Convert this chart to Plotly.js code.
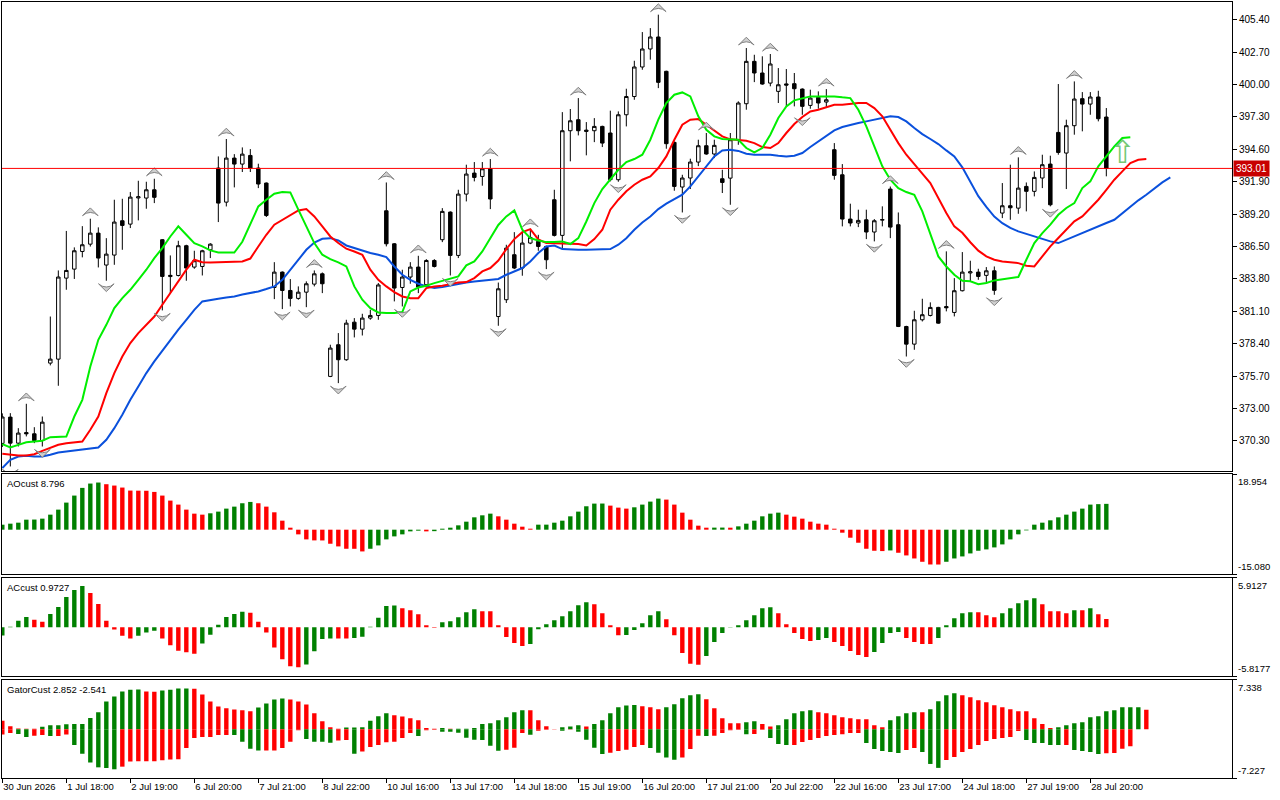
<!DOCTYPE html>
<html><head><meta charset="utf-8">
<script src="https://cdn.plot.ly/plotly-3.0.1.min.js"></script>
<style>html,body{margin:0;padding:0;background:#fff}#chart{width:1280px;height:800px}</style>
</head><body><div id="chart"></div>
<script>
// ---------- DATA ----------
const openP = [370.1,372.29,370.12,371.0,370.9,370.34,376.79,377.12,383.87,384.62,
386.09,386.7,387.62,384.96,385.79,388.65,388.37,390.55,390.54,391.23,
387.07,384.0,384.09,386.57,384.79,384.84,386.23,393.04,390.2,393.87,
393.37,394.09,393.04,391.79,383.09,384.37,382.84,382.18,382.7,383.37,
384.23,375.68,378.32,377.07,380.2,379.62,380.54,380.76,389.48,386.73,
383.09,383.96,384.79,383.32,385.34,387.07,389.37,385.76,390.87,392.62,
392.34,392.98,380.67,382.07,385.82,384.71,386.79,386.93,386.51,390.4,
387.43,396.15,397.07,396.2,396.15,396.51,395.96,392.07,397.48,399.0,
401.46,402.96,403.96,401.1,395.18,391.46,392.21,393.54,394.9,394.21,
392.15,392.2,395.4,398.4,401.93,400.96,400.12,399.43,400.05,400.07,
399.62,398.26,398.93,398.54,394.57,392.48,388.79,388.46,388.73,387.71,
388.7,391.29,388.32,379.84,378.37,380.4,380.76,381.43,381.5,381.01,
382.82,384.3,384.37,384.1,384.48,389.29,389.9,389.7,391.51,391.1,
392.21,393.37,396.01,394.29,396.57,398.82,398.37,398.96,397.29];
const highP = [372.6,372.62,371.37,373.4,371.45,372.34,380.67,384.51,387.8,386.43,
388.2,388.82,388.1,387.2,390.4,390.48,391.04,391.98,391.9,392.15,
387.12,385.76,386.98,386.65,386.15,386.23,386.78,394.01,395.46,394.2,
394.76,394.62,393.4,391.84,385.2,384.43,383.79,383.18,383.6,384.51,
384.34,378.32,379.29,380.4,380.54,380.9,381.23,383.46,391.84,386.79,
384.57,385.2,385.73,385.45,385.45,389.7,389.43,391.23,393.32,393.54,
393.54,393.79,383.5,386.65,387.7,387.7,387.9,387.48,386.57,391.23,
397.7,397.96,398.87,396.87,397.2,396.57,397.82,397.76,399.65,401.98,
404.37,404.7,405.82,401.15,395.26,392.48,393.82,395.4,395.96,395.4,
392.9,395.96,398.6,403.04,402.48,402.35,402.54,401.37,401.29,400.96,
399.68,399.57,399.43,399.62,395.12,393.37,390.07,389.57,389.57,388.79,
389.85,391.5,389.34,379.9,381.15,382.15,381.85,381.48,386.1,383.87,
386.04,385.32,384.65,384.79,384.84,391.79,393.32,393.93,391.84,392.76,
394.15,394.07,400.04,397.07,400.26,399.37,399.37,399.48,398.04];
const lowP = [369.8,368.18,369.84,370.68,370.12,369.84,376.6,374.9,382.9,383.8,
385.6,386.5,384.76,383.65,384.98,386.23,388.04,388.68,389.65,390.12,
381.18,382.57,384.01,383.65,384.65,384.09,385.54,388.54,389.84,391.43,
392.71,392.71,391.37,388.96,382.12,381.29,381.51,382.07,381.45,383.18,
382.62,375.62,375.12,376.98,378.93,379.09,380.4,380.4,386.51,381.93,
381.51,383.4,382.62,383.12,384.76,386.87,384.09,385.54,390.26,391.93,
391.57,389.62,379.9,381.8,384.62,384.07,386.7,386.15,384.62,387.34,
386.37,393.6,395.76,394.1,395.2,394.79,391.93,391.9,396.51,398.73,
401.23,402.07,399.7,394.65,391.15,389.34,391.29,393.2,394.15,393.87,
390.96,389.98,394.98,397.9,400.2,399.98,399.85,398.46,398.18,398.18,
397.48,397.98,397.98,398.04,392.07,388.18,388.18,388.12,387.12,386.93,
388.18,387.2,379.79,377.34,377.9,380.26,380.68,380.07,381.1,380.68,
382.76,383.6,383.73,383.46,382.48,388.87,388.73,389.23,389.43,390.68,
391.37,389.85,394.15,391.29,395.82,396.1,397.48,396.93,392.35];
const closeP = [372.3,370.12,370.96,370.9,370.34,371.87,377.12,383.96,384.51,386.15,
386.65,387.62,385.54,385.87,388.54,388.26,390.62,390.65,391.23,390.6,
384.01,384.1,386.57,384.71,385.32,386.15,386.7,390.12,393.87,393.37,
394.2,393.04,391.71,389.09,384.37,382.84,382.18,382.7,383.4,384.23,
383.4,378.04,377.07,380.12,379.62,380.54,380.76,383.3,386.73,383.04,
383.96,384.79,383.12,385.34,384.84,389.43,385.76,390.87,392.54,392.26,
392.98,390.46,382.98,386.37,384.71,386.79,387.26,386.51,385.4,387.43,
396.15,396.98,396.15,396.1,396.51,395.12,392.07,397.48,399.0,401.46,
402.96,403.96,400.18,395.07,391.51,392.21,393.54,394.9,394.21,394.93,
391.84,395.4,398.46,401.93,400.96,400.04,401.71,399.98,399.95,399.65,
398.18,398.87,398.46,398.73,392.43,388.79,388.46,388.68,387.71,388.65,
388.75,388.12,379.84,378.37,380.4,380.82,381.43,380.12,381.4,382.82,
384.37,384.4,384.01,384.48,382.85,389.9,389.73,391.37,391.1,392.26,
393.32,389.98,394.34,396.57,398.79,398.37,398.96,397.15,393.01];

// Alligator lines (already shifted forward as displayed)
const lipsVals = [370.04,369.76,369.98,370.2,370.26,370.32,370.62,370.67,370.67,372.34,
373.73,376.5,378.73,379.98,381.37,382.2,382.9,383.73,384.57,385.54,
386.37,387.34,388.18,387.48,386.79,386.51,386.18,386.01,386.0,386.0,
386.9,388.3,389.84,390.4,390.9,391.04,391.01,389.57,388.18,386.79,
385.82,385.45,385.18,384.84,383.18,382.07,381.37,381.01,380.96,380.96,
381.04,382.76,383.09,383.23,383.45,383.65,383.82,384.01,384.93,385.26,
386.09,387.15,388.3,389.01,389.51,387.9,387.2,387.01,386.87,386.87,
386.93,386.71,387.2,388.59,390.12,391.29,392.07,392.9,393.54,393.79,
394.15,395.4,397.07,398.46,399.15,399.34,399.01,397.35,396.23,395.68,
395.46,395.44,395.4,394.71,394.34,394.71,395.82,397.21,398.18,398.68,
398.87,399.01,399.01,399.01,399.01,398.93,398.87,397.9,396.51,394.84,
393.18,392.07,391.37,391.04,390.82,389.43,387.62,385.68,384.84,384.15,
383.65,383.6,383.36,383.46,383.68,383.79,383.87,383.96,385.4,386.79,
387.62,388.32,389.15,389.71,390.12,391.37,391.93,393.18,394.01,394.84,395.54,395.6];
const teethVals = [369.23,369.15,369.1,369.1,369.2,369.48,369.7,369.98,370.12,370.2,
370.26,371.23,372.34,374.29,375.96,377.34,378.46,379.29,379.98,380.67,
381.65,382.62,383.59,384.57,385.4,385.2,385.18,385.18,385.2,385.23,
385.26,385.5,386.51,387.48,388.32,388.73,389.15,389.51,389.62,389.01,
388.18,387.34,386.79,386.32,386.09,385.82,384.57,383.73,383.18,382.7,
382.34,382.2,382.2,383.04,383.18,383.23,383.37,383.51,383.54,383.87,
384.43,384.71,385.33,386.29,387.12,387.7,387.95,387.1,386.79,386.79,
386.73,386.73,386.71,386.59,387.12,387.9,389.57,390.4,391.1,391.65,
392.07,392.34,393.04,394.01,395.4,396.65,397.07,397.12,396.65,396.18,
395.68,395.43,395.4,395.32,395.12,394.79,394.71,395.12,395.96,396.71,
397.29,397.76,397.9,398.12,398.32,398.32,398.4,398.46,398.46,398.04,
397.35,396.23,395.12,394.15,393.32,392.57,391.79,390.54,389.29,388.18,
387.65,386.86,386.16,385.68,385.4,385.26,385.21,385.12,384.9,384.84,
385.68,386.51,387.21,387.9,388.6,389.01,389.71,390.4,391.23,392.07,392.76,393.46,393.73,393.79];
const jawVals = [368.04,368.73,369.01,369.07,369.01,369.01,369.15,369.34,369.43,369.51,
369.62,369.7,369.76,370.4,371.37,372.48,373.73,374.84,375.96,376.93,
377.84,378.73,379.57,380.4,381.23,381.93,382.07,382.15,382.26,382.34,
382.5,382.62,382.76,382.96,383.18,383.73,384.57,385.4,386.23,386.84,
387.15,387.2,387.01,386.59,386.37,386.18,385.96,385.82,385.62,384.84,
384.15,383.73,383.4,383.18,383.04,383.12,383.26,383.4,383.51,383.59,
383.65,383.73,383.8,384.15,384.43,384.71,385.26,385.96,386.51,386.59,
386.29,386.23,386.23,386.23,386.23,386.26,386.29,386.65,387.2,387.9,
388.51,389.01,389.62,390.07,390.46,390.82,391.51,392.34,393.18,394.01,
394.51,394.57,394.47,394.23,394.15,394.15,394.15,394.07,394.01,394.07,
394.29,394.79,395.26,395.73,396.18,396.46,396.65,396.79,396.93,397.07,
397.26,397.35,397.29,396.93,396.37,395.87,395.46,395.04,394.51,394.01,
393.1,391.9,390.7,389.8,389.0,388.45,388.05,387.76,387.54,387.35,
387.12,386.93,386.79,387.07,387.35,387.68,387.9,388.18,388.46,388.73,389.29,389.85,390.35,390.82,391.37,391.85,392.26];

const upFractalBars = [3,11,19,28,39,48,52,61,66,72,82,88,93,96,103,111,118,127,134];
const downFractalBars = [1,5,13,20,35,38,42,50,56,62,68,77,85,91,100,109,113,124,131];
const signalBar = [140];
const signalPrice = [394.4];
const currentPrice = 393.01;

const aoVals = [1.7,2.05,2.39,3.41,3.45,3.76,5.12,6.83,9.22,11.61,
14.23,15.7,16.05,15.48,15.02,14.34,13.31,13.28,13.25,12.86,
11.61,9.9,8.54,6.83,5.46,5.12,5.58,6.15,7.17,7.85,
9.0,9.45,9.0,7.85,5.92,3.07,0.68,-1.59,-3.3,-3.64,
-3.66,-4.78,-5.69,-6.49,-6.5,-7.4,-6.49,-5.35,-3.3,-2.28,
-1.59,-0.57,-0.34,-0.57,-0.5,0.34,0.68,1.48,2.73,4.21,
4.89,5.46,4.55,3.41,2.05,1.02,0.34,1.71,1.72,2.39,
3.07,4.55,6.15,7.97,8.88,8.9,8.19,7.51,7.17,7.62,
8.54,9.56,10.58,10.24,8.54,5.8,3.41,1.37,0.68,0.7,
0.72,0.68,1.14,2.05,3.07,4.55,5.46,5.8,5.12,4.44,
3.76,2.73,2.05,1.71,0.34,-1.02,-2.73,-4.44,-6.49,-7.17,
-7.28,-7.06,-7.85,-8.76,-9.79,-10.92,-11.84,-11.85,-10.92,-9.79,
-9.1,-8.08,-7.17,-6.71,-6.03,-5.01,-3.3,-1.59,-0.23,1.71,
2.39,3.19,4.21,5.12,6.15,7.17,8.54,8.7,8.796];
const acVals = [-1.0,0.05,0.75,1.22,0.87,0.63,1.58,2.41,3.59,4.42,
4.9,4.07,2.77,0.75,-0.28,-1.03,-1.34,-1.03,-0.63,-0.43,
-1.34,-2.17,-2.8,-3.0,-3.16,-1.94,-0.91,0.28,1.22,1.58,
1.82,1.7,0.63,-0.63,-2.41,-3.83,-4.66,-4.78,-4.46,-2.88,
-1.42,-1.34,-1.35,-1.36,-1.3,-1.15,0.05,1.11,2.53,2.57,
2.25,2.01,1.54,0.24,-0.08,0.59,0.71,1.18,1.77,2.13,
1.89,1.88,0.24,-1.18,-1.89,-2.25,-2.01,-0.24,0.35,0.83,
1.3,1.89,2.6,2.96,2.72,1.65,0.24,-0.95,-0.94,-0.35,
0.47,1.42,1.89,0.95,-0.95,-3.07,-4.37,-4.49,-3.43,-1.77,
-0.71,-0.04,0.24,0.83,1.42,2.25,2.36,1.65,0.35,-0.71,
-1.42,-1.65,-1.54,-1.3,-1.77,-2.25,-2.84,-3.31,-3.55,-2.96,
-1.89,-0.71,-0.59,-1.3,-1.77,-2.01,-2.02,-1.3,0.24,1.06,
1.65,1.77,1.76,1.42,1.18,1.65,2.25,2.84,3.19,3.43,
2.72,1.89,1.88,1.65,2.01,2.0,2.25,1.54,0.9727];
const gatorUp = [1.22,0.44,0.10,0.05,0.04,0.34,0.58,0.59,0.73,0.74,
0.75,1.66,2.48,4.09,4.82,5.55,5.84,5.85,5.55,5.54,
5.70,5.84,5.99,6.0,5.98,5.11,4.09,3.36,3.07,2.92,
2.78,2.63,3.21,3.80,4.38,4.53,4.38,4.09,3.65,2.34,
1.17,0.29,0.05,0.24,0.25,0.29,1.22,1.9,2.34,2.06,
1.86,1.62,1.32,0.15,0.05,0.15,0.05,0.06,0.07,0.15,
0.74,0.88,1.32,1.76,2.5,2.79,2.78,1.32,0.44,0.02,
0.29,0.39,0.59,0.39,0.74,1.32,2.35,3.23,3.50,3.55,
3.38,3.23,2.94,3.23,3.67,4.56,5.0,5.15,4.41,3.09,
1.62,0.88,0.87,1.03,1.18,0.74,0.39,0.59,1.47,2.35,
2.65,2.79,2.5,2.35,2.06,1.76,1.62,1.47,1.46,0.59,
0.29,1.32,1.91,2.35,2.5,2.49,2.94,4.12,5.0,5.29,
5.0,4.7,4.26,3.97,3.53,3.23,2.94,2.65,2.64,1.62,
0.74,0.15,0.29,0.59,0.88,1.03,1.76,1.91,2.65,2.79,3.23,3.24,3.25,2.852];
const gatorDown = [-0.78,-0.58,-0.73,-1.17,-0.97,-0.88,-1.02,-1.01,-0.78,-2.34,
-3.65,-4.92,-5.65,-5.75,-5.94,-5.55,-4.77,-4.76,-4.75,-4.74,
-4.6,-4.48,-4.47,-2.78,-1.31,-1.17,-1.16,-0.88,-0.87,-0.88,
-1.85,-2.92,-3.17,-3.16,-3.15,-2.78,-1.85,-0.15,-1.46,-1.85,
-1.86,-2.0,-1.7,-1.61,-3.65,-3.31,-2.63,-2.34,-1.95,-1.86,
-1.32,-0.59,-1.03,-0.15,-0.1,-0.39,-0.4,-0.54,-1.27,-1.57,
-1.6,-2.45,-3.19,-3.04,-2.74,-0.59,-0.83,-0.25,-0.1,-0.02,
-0.25,-0.05,-0.39,-1.57,-2.74,-3.67,-3.48,-3.23,-3.04,-2.65,
-2.35,-2.79,-3.48,-4.21,-4.51,-4.21,-2.94,-0.98,-1.0,-0.98,
-0.59,-0.15,-0.1,-0.74,-0.73,-0.1,-1.32,-2.2,-2.35,-2.34,
-1.91,-1.62,-1.32,-1.03,-0.88,-0.74,-0.59,-0.58,-2.06,-2.94,
-3.23,-3.38,-3.53,-3.09,-2.79,-3.38,-5.15,-5.73,-4.56,-4.12,
-3.38,-2.94,-2.35,-1.76,-1.47,-1.32,-1.18,-0.29,-1.62,-2.06,
-2.07,-2.35,-2.36,-2.35,-3.09,-3.23,-3.38,-3.67,-3.55,-3.54,-2.9,-2.541];

const aoScale = [-15.080, 18.954];
const acScale = [-5.8177, 5.9127];
const gatorScale = [-7.227, 7.338];
const aoScaleText = ['-15.080', '18.954'];
const acScaleText = ['-5.8177', '5.9127'];
const gatorScaleText = ['-7.227', '7.338'];

const timeTickBars = [0,8,16,24,32,40,48,56,64,72,80,88,96,104,112,120,128,136];
const timeTickLabels = ['30 Jun 2026','1 Jul 18:00','2 Jul 19:00','6 Jul 20:00','7 Jul 21:00',
'8 Jul 22:00','10 Jul 16:00','13 Jul 17:00','14 Jul 18:00','15 Jul 19:00','16 Jul 20:00',
'17 Jul 21:00','20 Jul 22:00','22 Jul 16:00','23 Jul 17:00','24 Jul 18:00','27 Jul 19:00','28 Jul 20:00'];

// ---------- BUILD ----------
const idx = n => Array.from({length: n}, (_, i) => i);
const GREEN = '#008000', RED = '#ff0000';
const FONT = 'Liberation Sans, Arial, sans-serif';
const trendColors = (v, first) => v.map((x, i) => i === 0 ? first : (x > v[i-1] ? GREEN : RED));
const magColors = (v, first) => v.map((x, i) => i === 0 ? first : (Math.abs(x) > Math.abs(v[i-1]) ? GREEN : RED));

const nBars = openP.length;
const xRange = [-0.04, 153.71];

const traces = [
  {type: 'candlestick', x: idx(nBars), open: openP, high: highP, low: lowP, close: closeP,
   xaxis: 'x', yaxis: 'y', whiskerwidth: 0, hoverinfo: 'skip',
   increasing: {line: {color: '#000', width: 1}, fillcolor: '#ffffff'},
   decreasing: {line: {color: '#000', width: 1}, fillcolor: '#000000'}},
  {type: 'scatter', mode: 'lines', x: idx(jawVals.length), y: jawVals, xaxis: 'x', yaxis: 'y',
   line: {color: '#0a50dc', width: 2}, hoverinfo: 'skip'},
  {type: 'scatter', mode: 'lines', x: idx(teethVals.length), y: teethVals, xaxis: 'x', yaxis: 'y',
   line: {color: '#ff0000', width: 2}, hoverinfo: 'skip'},
  {type: 'scatter', mode: 'lines', x: idx(lipsVals.length), y: lipsVals, xaxis: 'x', yaxis: 'y',
   line: {color: '#00ee00', width: 2}, hoverinfo: 'skip'},
  {type: 'scatter', mode: 'markers', x: upFractalBars, y: upFractalBars.map(i => highP[i] + 0.9),
   xaxis: 'x', yaxis: 'y', hoverinfo: 'skip',
   marker: {symbol: 'arrow-wide', size: 11, color: '#cfcfcf', line: {color: '#808080', width: 1}}},
  {type: 'scatter', mode: 'markers', x: downFractalBars, y: downFractalBars.map(i => lowP[i] - 0.9),
   xaxis: 'x', yaxis: 'y', hoverinfo: 'skip',
   marker: {symbol: 'arrow-wide', angle: 180, size: 11, color: '#cfcfcf', line: {color: '#808080', width: 1}}},
  {type: 'bar', x: idx(aoVals.length), y: aoVals, xaxis: 'x2', yaxis: 'y2', width: 0.55,
   marker: {color: trendColors(aoVals, GREEN), line: {width: 0}}, hoverinfo: 'skip'},
  {type: 'bar', x: idx(acVals.length), y: acVals, xaxis: 'x3', yaxis: 'y3', width: 0.55,
   marker: {color: trendColors(acVals, GREEN), line: {width: 0}}, hoverinfo: 'skip'},
  {type: 'bar', x: idx(gatorUp.length), y: gatorUp, xaxis: 'x4', yaxis: 'y4', width: 0.55,
   marker: {color: trendColors(gatorUp, RED), line: {width: 0}}, hoverinfo: 'skip'},
  {type: 'bar', x: idx(gatorDown.length), y: gatorDown, xaxis: 'x4', yaxis: 'y4', width: 0.55,
   marker: {color: magColors(gatorDown, RED), line: {width: 0}}, hoverinfo: 'skip'}
];

const frameX = (anchor, extra) => Object.assign({
  domain: [0, 1], range: xRange, anchor: anchor, showline: true, mirror: true,
  linecolor: '#000', linewidth: 1, showgrid: false, zeroline: false, showticklabels: false,
  ticks: '', fixedrange: true, rangeslider: {visible: false}
}, extra || {});
const frameY = (domain, range, extra) => Object.assign({
  domain: domain, range: range, side: 'right', showline: true, mirror: true,
  linecolor: '#000', linewidth: 1, showgrid: false, zeroline: false, fixedrange: true,
  ticks: 'outside', ticklen: 4, tickcolor: '#000',
  tickfont: {family: FONT, size: 10, color: '#000'}
}, extra || {});

const H = 776;
const dom = (top, bottom) => [(778 - bottom) / H, (778 - top) / H];

const layout = {
  width: 1280, height: 800,
  margin: {l: 2, r: 48, t: 2, b: 22, pad: 0},
  paper_bgcolor: '#ffffff', plot_bgcolor: '#ffffff',
  showlegend: false, hovermode: false, barmode: 'overlay', boxgap: 0.38,
  font: {family: FONT, size: 10, color: '#000'},
  xaxis: frameX('y'),
  xaxis2: frameX('y2', {matches: 'x'}),
  xaxis3: frameX('y3', {matches: 'x'}),
  xaxis4: frameX('y4', {matches: 'x', showticklabels: true, tickmode: 'array',
     tickvals: timeTickBars, ticktext: timeTickLabels, ticks: 'outside', ticklen: 4,
     tickcolor: '#000', ticklabelposition: 'outside right',
     tickfont: {family: FONT, size: 9.5, color: '#000'}}),
  yaxis: frameY(dom(2, 471), [367.8, 406.875], {tick0: 370.3, dtick: 2.7, tickformat: '.2f'}),
  yaxis2: frameY(dom(474, 574), aoScale, {tickmode: 'array', tickvals: aoScale, showticklabels: false}),
  yaxis3: frameY(dom(577.5, 676), acScale, {tickmode: 'array', tickvals: acScale, showticklabels: false}),
  yaxis4: frameY(dom(679.5, 778), gatorScale, {tickmode: 'array', tickvals: gatorScale, showticklabels: false}),
  shapes: [
    {type: 'line', xref: 'paper', x0: 0, x1: 1, yref: 'y', y0: currentPrice, y1: currentPrice,
     line: {color: '#ff0000', width: 1}}
  ],
  annotations: []
};

const ann = layout.annotations;
const lbl = {family: FONT, size: 9.5, color: '#000'};
ann.push({xref: 'paper', x: 0, xanchor: 'left', xshift: 3, yref: 'y2 domain', y: 1, yanchor: 'top', yshift: -2,
  text: 'AOcust ' + aoVals[aoVals.length - 1], showarrow: false, font: lbl});
ann.push({xref: 'paper', x: 0, xanchor: 'left', xshift: 3, yref: 'y3 domain', y: 1, yanchor: 'top', yshift: -2,
  text: 'ACcust ' + acVals[acVals.length - 1], showarrow: false, font: lbl});
ann.push({xref: 'paper', x: 0, xanchor: 'left', xshift: 3, yref: 'y4 domain', y: 1, yanchor: 'top', yshift: -2,
  text: 'GatorCust ' + gatorUp[gatorUp.length - 1] + ' ' + gatorDown[gatorDown.length - 1], showarrow: false, font: lbl});
[['y2', aoScale, aoScaleText], ['y3', acScale, acScaleText], ['y4', gatorScale, gatorScaleText]].forEach(([ax, sc, tx]) => {
  ann.push({xref: 'paper', x: 1, xanchor: 'left', xshift: 4, yref: ax, y: sc[1], yanchor: 'top',
    text: tx[1], showarrow: false, font: lbl});
  ann.push({xref: 'paper', x: 1, xanchor: 'left', xshift: 4, yref: ax, y: sc[0], yanchor: 'bottom',
    text: tx[0], showarrow: false, font: lbl});
});
ann.push({xref: 'paper', x: 1, xanchor: 'left', xshift: 1, yref: 'y', y: currentPrice, yanchor: 'middle',
  text: currentPrice.toFixed(2), showarrow: false, bgcolor: '#c80000', borderpad: 2,
  font: {family: FONT, size: 10, color: '#ffffff'}});
signalBar.forEach((b, k) => ann.push({xref: 'x', x: b, yref: 'y', y: signalPrice[k], showarrow: false,
  text: '⇧', font: {family: 'DejaVu Sans', size: 32, color: '#74c874'}}));

Plotly.newPlot('chart', traces, layout, {displayModeBar: false, staticPlot: true});
</script>
</body></html>
